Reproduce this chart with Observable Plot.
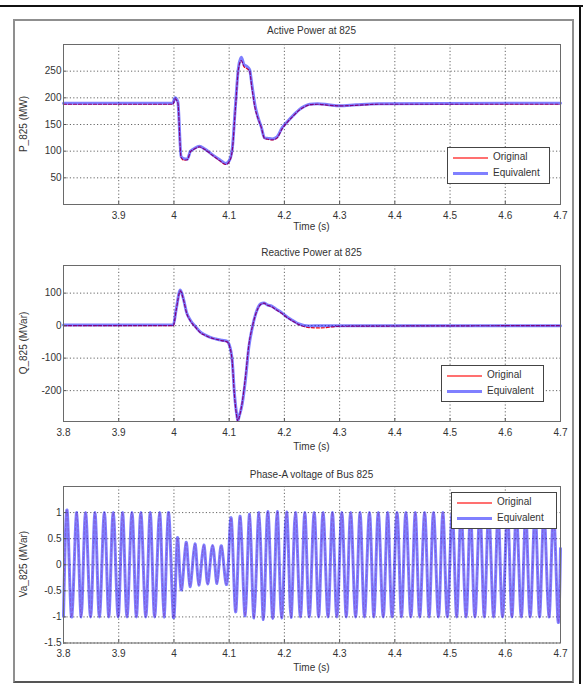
<!DOCTYPE html>
<html><head><meta charset="utf-8">
<script src="https://cdn.jsdelivr.net/npm/d3@7"></script>
<script src="https://cdn.jsdelivr.net/npm/@observablehq/plot@0.6"></script>
<style>
body{margin:0;background:#fff;font-family:"Liberation Sans",Arial,sans-serif;}
#root{position:relative;width:583px;height:684px;overflow:hidden;background:#fff;}
.line{position:absolute;background:#111;}
.gframe{position:absolute;border:2px solid #8f8f8f;border-bottom-color:#555;box-sizing:border-box;}
.panel{position:absolute;left:0;}
.ttl,.xl{position:absolute;width:240px;margin-left:-120px;text-align:center;font-size:10px;line-height:12px;color:#333;white-space:nowrap;}
.yl{position:absolute;font-size:10px;line-height:12px;color:#333;white-space:nowrap;transform:translate(-50%,-50%) rotate(-90deg);}
.legend{position:absolute;border:1px solid #444;background:#fff;box-sizing:border-box;font-size:10px;color:#333;}
.legend .l{position:absolute;left:5px;width:35px;}
.legend .t{position:absolute;left:45px;line-height:12px;white-space:nowrap;}
</style>
</head><body>
<div id="root">
  <div class="gframe" style="left:13px;top:19px;width:561px;height:664px"></div>
  <div class="line" style="left:0;top:5px;width:583px;height:2px"></div>
  <div class="line" style="left:579px;top:5px;width:2px;height:679px"></div>
</div>
<script>
// ---- data ----
const xTicksAll = [3.8, 3.9, 4, 4.1, 4.2, 4.3, 4.4, 4.5, 4.6, 4.7];
const xTicksP = [3.9, 4, 4.1, 4.2, 4.3, 4.4, 4.5, 4.6, 4.7];
const pTicks = [50, 100, 150, 200, 250];
const qTicks = [-200, -100, 0, 100];
const vaTicks = [-1.5, -1, -0.5, 0, 0.5, 1];

// Active power P_825 (MW)
const pTime = [3.80, 3.998, 4.002, 4.007, 4.013, 4.018, 4.024, 4.030, 4.037, 4.046, 4.056, 4.070, 4.083, 4.094, 4.101, 4.106, 4.111, 4.117, 4.122, 4.127, 4.132, 4.137, 4.141, 4.147, 4.152, 4.158, 4.164, 4.171, 4.178, 4.186, 4.196, 4.206, 4.217, 4.227, 4.236, 4.246, 4.260, 4.280, 4.300, 4.330, 4.370, 4.70];
const pEquivalent = [190, 190, 200, 193, 90, 86, 85, 100, 105, 109, 104, 93, 84, 77, 84, 108, 180, 258, 276, 262, 259, 253, 226, 185, 164, 146, 125, 124, 123, 126, 144, 156, 168, 178, 184, 188, 189, 187, 185, 187, 189, 190];
const pOriginal = [188, 188, 198, 191, 88, 83, 84, 99, 104, 108, 103, 92, 82, 75, 82, 105, 175, 255, 270, 258, 255, 250, 220, 180, 162, 145, 124, 122, 121, 124, 142, 155, 167, 177, 183, 187, 188, 186, 185, 186, 188, 188];

// Reactive power Q_825 (MVar)
const qTime = [3.80, 3.999, 4.004, 4.0115, 4.0175, 4.023, 4.030, 4.040, 4.048, 4.057, 4.066, 4.076, 4.087, 4.096, 4.100, 4.1055, 4.1096, 4.1145, 4.1156, 4.118, 4.1236, 4.130, 4.1356, 4.142, 4.148, 4.157, 4.163, 4.169, 4.177, 4.184, 4.195, 4.2055, 4.216, 4.2265, 4.2447, 4.266, 4.30, 4.70];
const qEquivalent = [2, 3, 50, 110, 80, 40, 16, -5, -20, -29, -36, -41, -45, -48, -58, -107, -210, -282, -292, -280, -241, -159, -66, -5, 36, 67, 70, 64, 60, 52, 40, 26, 15, 5, -1, 0, 0, 0];
const qOriginal = [0, 0, 47, 107, 78, 38, 14, -7, -22, -30, -37, -42, -46, -50, -60, -110, -215, -287, -295, -283, -236, -150, -60, -3, 35, 65, 69, 63, 58, 50, 38, 24, 13, 3, -6, -7, -2, 0];

// Phase-A voltage Va_825: extrema of the waveform
const vaTime = [
  3.800, 3.807, 3.815, 3.824, 3.832, 3.840, 3.849, 3.857, 3.865, 3.874, 3.882, 3.890, 3.899,
  3.907, 3.915, 3.924, 3.932, 3.940, 3.949, 3.957, 3.965, 3.974, 3.982, 3.990, 3.999,
  4.006, 4.013, 4.022, 4.029, 4.038, 4.045, 4.054, 4.061, 4.070, 4.078, 4.086, 4.096,
  4.104, 4.112, 4.120, 4.129, 4.137, 4.145, 4.154, 4.162, 4.170, 4.179, 4.187, 4.195,
  4.204, 4.212, 4.220, 4.229, 4.237, 4.245, 4.254, 4.262, 4.270, 4.279, 4.287, 4.295,
  4.304, 4.312, 4.320, 4.329, 4.337, 4.345, 4.354, 4.362, 4.370, 4.379, 4.387, 4.395,
  4.404, 4.412, 4.420, 4.429, 4.437, 4.445, 4.454, 4.462, 4.470, 4.479, 4.487, 4.495,
  4.504, 4.512, 4.520, 4.529, 4.537, 4.545, 4.554, 4.562, 4.570, 4.579, 4.587, 4.595,
  4.604, 4.612, 4.620, 4.629, 4.637, 4.645, 4.654, 4.662, 4.670, 4.679, 4.687, 4.695,
  4.700];
const vaEquivalent = [
  -0.99, 1, -1, 1, -1, 1, -1, 1, -1, 1, -1, 1, -1,
  1, -1, 1, -1, 1, -1, 1, -1, 1, -1, 1, -1,
  0.50, -0.48, 0.43, -0.42, 0.40, -0.39, 0.38, -0.37, 0.37, -0.36, 0.36, -0.35,
  0.88, -0.90, 0.93, -0.98, 0.97, -1.02, 1.00, -1.05, 1.02, -1.03, 1.02, -1.02,
  1.01, -1.01, 1, -1, 1, -1, 1, -1, 1, -1, 1, -1,
  1, -1, 1, -1, 1, -1, 1, -1, 1, -1, 1, -1,
  1, -1, 1, -1, 1, -1, 1, -1, 1, -1, 1, -1,
  1, -1, 1, -1, 1, -1, 1, -1, 1, -1, 1, -1,
  1, -1, 1, -1, 1, -1, 1, -1, 1, -1, 1, -1,
  0.31];
const vaOriginal = [
  -0.99, 1, -1, 1, -1, 1, -1, 1, -1, 1, -1, 1, -1,
  1, -1, 1, -1, 1, -1, 1, -1, 1, -1, 1, -1,
  0.49, -0.48, 0.43, -0.41, 0.40, -0.39, 0.38, -0.37, 0.37, -0.36, 0.36, -0.35,
  0.88, -0.90, 0.93, -0.98, 0.97, -1.02, 1.00, -1.05, 1.02, -1.03, 1.02, -1.02,
  1.01, -1.01, 1, -1, 1, -1, 1, -1, 1, -1, 1, -1,
  1, -1, 1, -1, 1, -1, 1, -1, 1, -1, 1, -1,
  1, -1, 1, -1, 1, -1, 1, -1, 1, -1, 1, -1,
  1, -1, 1, -1, 1, -1, 1, -1, 1, -1, 1, -1,
  1, -1, 1, -1, 1, -1, 1, -1, 1, -1, 1, -1,
  0.31];

const rows = (t, v) => t.map((d, i) => ({t: d, v: v[i]}));

const panels = [
  {top: 20, height: 212, mt: 24, mb: 28, xt: xTicksP, yt: pTicks, yDomain: [0, 300],
   orig: rows(pTime, pOriginal), equiv: rows(pTime, pEquivalent), curve: "monotone-x",
   redW: 1.2, redOp: 1,
   title: "Active Power at 825", ylab: "P_825 (MW)", titleY: 31, xlabY: 227,
   legend: {left: 447, top: 147, width: 103, height: 37}},
  {top: 240, height: 200, mt: 25, mb: 19, xt: xTicksAll, yt: qTicks, yDomain: [-295, 185],
   orig: rows(qTime, qOriginal), equiv: rows(qTime, qEquivalent), curve: "monotone-x",
   redW: 1.2, redOp: 1,
   title: "Reactive Power at 825", ylab: "Q_825 (MVar)", titleY: 253, xlabY: 447,
   legend: {left: 441, top: 365, width: 103, height: 37}},
  {top: 462, height: 200, mt: 24, mb: 19.5, xt: xTicksAll, yt: vaTicks, yDomain: [-1.5, 1.5],
   orig: rows(vaTime, vaOriginal), equiv: rows(vaTime, vaEquivalent), curve: "natural",
   redW: 0.8, redOp: 0.35,
   title: "Phase-A voltage of Bus 825", ylab: "Va_825 (MVar)", titleY: 475, xlabY: 668,
   legend: {left: 451, top: 492, width: 106, height: 37}}
];

const root = document.getElementById("root");
const gridStyle = {stroke: "#333", strokeOpacity: 0.75, strokeDasharray: "1.2,2.2", strokeWidth: 1};

for (const p of panels) {
  const svg = Plot.plot({
    width: 583, height: p.height,
    marginLeft: 63, marginRight: 23, marginTop: p.mt, marginBottom: p.mb,
    x: {domain: [3.8, 4.7]},
    y: {domain: p.yDomain},
    style: {fontFamily: '"Liberation Sans", Arial, sans-serif', fontSize: "10px", color: "#333", background: "transparent", overflow: "visible"},
    marks: [
      Plot.gridX(xTicksAll, gridStyle),
      Plot.gridY(p.yt, gridStyle),
      Plot.line(p.orig, {x: "t", y: "v", stroke: "#ff0000", strokeOpacity: p.redOp, strokeWidth: p.redW, strokeDasharray: "3,2", curve: p.curve}),
      Plot.line(p.equiv, {x: "t", y: "v", stroke: "#0000ff", strokeOpacity: 0.5, strokeWidth: 3, curve: p.curve}),
      Plot.axisX(p.xt, {tickSize: -3, tickPadding: 10, tickFormat: d => String(d), label: null, stroke: "#555"}),
      Plot.axisY(p.yt, {tickSize: -3, tickPadding: 5, tickFormat: d => String(d), label: null, stroke: "#555"}),
      Plot.frame({stroke: "#6a6a6a"})
    ]
  });
  const wrap = document.createElement("div");
  wrap.className = "panel";
  wrap.style.top = p.top + "px";
  wrap.appendChild(svg);
  root.appendChild(wrap);

  const cx = (63 + 560) / 2;
  const t = document.createElement("div");
  t.className = "ttl"; t.textContent = p.title;
  t.style.left = cx + "px"; t.style.top = (p.titleY - 6) + "px";
  root.appendChild(t);

  const xl = document.createElement("div");
  xl.className = "xl"; xl.textContent = "Time (s)";
  xl.style.left = cx + "px"; xl.style.top = (p.xlabY - 6) + "px";
  root.appendChild(xl);

  const yl = document.createElement("div");
  yl.className = "yl"; yl.textContent = p.ylab;
  yl.style.left = "24px";
  yl.style.top = (p.top + p.mt + (p.height - p.mt - p.mb) / 2) + "px";
  root.appendChild(yl);

  const lg = document.createElement("div");
  lg.className = "legend";
  Object.assign(lg.style, {left: p.legend.left + "px", top: p.legend.top + "px", width: p.legend.width + "px", height: p.legend.height + "px"});
  lg.innerHTML =
    '<div class="l" style="top:9px;height:2px;background:#ff7070"></div>' +
    '<div class="t" style="top:3px">Original</div>' +
    '<div class="l" style="top:24px;height:3px;background:#8080ff"></div>' +
    '<div class="t" style="top:19px">Equivalent</div>';
  root.appendChild(lg);
}
</script>
</body></html>
